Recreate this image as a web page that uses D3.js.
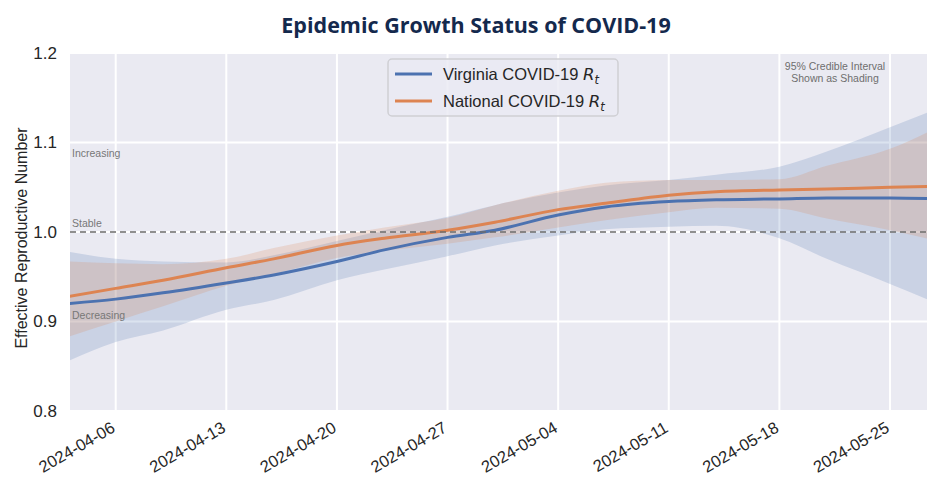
<!DOCTYPE html>
<html>
<head>
<meta charset="utf-8">
<script src="https://cdn.jsdelivr.net/npm/d3@7.9.0/dist/d3.min.js"></script>
<style>
  body { margin: 0; background: #fff; }
  svg { display: block; font-family: "Liberation Sans", Arial, sans-serif; }
</style>
</head>
<body>
<div id="chart"></div>
<script>
// dates
const dates = ['2024-04-03', '2024-04-06', '2024-04-09', '2024-04-13', '2024-04-16', '2024-04-20',
  '2024-04-23', '2024-04-27', '2024-04-30', '2024-05-04', '2024-05-07', '2024-05-11',
  '2024-05-14', '2024-05-18', '2024-05-21', '2024-05-25', '2024-05-28'];

// Virginia Rt and 95% interval
const vaRt    = [0.920, 0.925, 0.932, 0.943, 0.952, 0.967, 0.980, 0.994, 1.002, 1.019, 1.028, 1.034, 1.036, 1.037, 1.038, 1.038, 1.037];
const vaLower = [0.856, 0.877, 0.890, 0.913, 0.924, 0.946, 0.958, 0.973, 0.985, 0.996, 1.003, 1.006, 1.007, 0.993, 0.970, 0.942, 0.920];
const vaUpper = [0.978, 0.970, 0.967, 0.966, 0.974, 0.990, 1.002, 1.017, 1.030, 1.044, 1.052, 1.058, 1.064, 1.073, 1.090, 1.117, 1.138];

// National Rt and 95% interval
const usRt    = [0.928, 0.937, 0.946, 0.960, 0.970, 0.985, 0.993, 1.002, 1.011, 1.025, 1.032, 1.041, 1.045, 1.047, 1.048, 1.050, 1.051];
const usLower = [0.883, 0.900, 0.917, 0.940, 0.953, 0.971, 0.979, 0.987, 0.994, 1.005, 1.013, 1.022, 1.027, 1.026, 1.015, 1.002, 0.990];
const usUpper = [0.967, 0.965, 0.964, 0.970, 0.982, 0.996, 1.005, 1.016, 1.030, 1.046, 1.055, 1.058, 1.058, 1.059, 1.074, 1.093, 1.117];

const tickDates = ['2024-04-06', '2024-04-13', '2024-04-20', '2024-04-27', '2024-05-04', '2024-05-11', '2024-05-18', '2024-05-25'];
const yTicks = [0.8, 0.9, 1.0, 1.1, 1.2];

const seriesNames = ['Virginia COVID-19 ', 'National COVID-19 '];
const colors = ['#4c72b0', '#dd8452'];

const W = 927, H = 477;
const plot = { left: 70, right: 927, top: 53, bottom: 411 };
const parse = d3.timeParse('%Y-%m-%d');

const svg = d3.select('#chart').append('svg')
  .attr('width', W).attr('height', H);

// x scale pinned by the two outer ticks
const x = d3.scaleTime()
  .domain([parse('2024-04-06'), parse('2024-05-25')])
  .range([115.7, 890]);
const y = d3.scaleLinear().domain([0.8, 1.2]).range([plot.bottom, plot.top]);

svg.append('defs').append('clipPath').attr('id', 'clip')
  .append('rect')
  .attr('x', plot.left).attr('y', plot.top)
  .attr('width', plot.right - plot.left).attr('height', plot.bottom - plot.top);

// background
svg.append('rect')
  .attr('x', plot.left).attr('y', plot.top)
  .attr('width', plot.right - plot.left).attr('height', plot.bottom - plot.top)
  .attr('fill', '#eaeaf2');

// gridlines
svg.append('g')
  .selectAll('line')
  .data(tickDates)
  .join('line')
  .attr('x1', d => x(parse(d))).attr('x2', d => x(parse(d)))
  .attr('y1', plot.top).attr('y2', plot.bottom)
  .attr('stroke', '#fff').attr('stroke-width', 2);

svg.append('g')
  .selectAll('line')
  .data(yTicks)
  .join('line')
  .attr('x1', plot.left).attr('x2', plot.right)
  .attr('y1', d => y(d)).attr('y2', d => y(d))
  .attr('stroke', '#fff').attr('stroke-width', 2);

// bands and lines
const rows = dates.map((d, i) => ({
  date: parse(d),
  va: vaRt[i], vaLo: vaLower[i], vaHi: vaUpper[i],
  us: usRt[i], usLo: usLower[i], usHi: usUpper[i]
}));

const g = svg.append('g').attr('clip-path', 'url(#clip)');

const area = (lo, hi) => d3.area()
  .x(d => x(d.date))
  .y0(d => y(d[lo]))
  .y1(d => y(d[hi]))
  .curve(d3.curveMonotoneX);

g.append('path').datum(rows)
  .attr('d', area('vaLo', 'vaHi'))
  .attr('fill', colors[0]).attr('fill-opacity', 0.2);

g.append('path').datum(rows)
  .attr('d', area('usLo', 'usHi'))
  .attr('fill', colors[1]).attr('fill-opacity', 0.2);

// stable reference line
svg.append('line')
  .attr('x1', plot.left).attr('x2', plot.right)
  .attr('y1', y(1)).attr('y2', y(1))
  .attr('stroke', '#6b6b6b').attr('stroke-width', 1.5)
  .attr('stroke-dasharray', '6,4');

const line = key => d3.line()
  .x(d => x(d.date))
  .y(d => y(d[key]))
  .curve(d3.curveMonotoneX);

g.append('path').datum(rows)
  .attr('d', line('va'))
  .attr('fill', 'none').attr('stroke', colors[0]).attr('stroke-width', 3);

g.append('path').datum(rows)
  .attr('d', line('us'))
  .attr('fill', 'none').attr('stroke', colors[1]).attr('stroke-width', 3);

// y axis labels
svg.append('g')
  .attr('transform', `translate(${plot.left},0)`)
  .call(d3.axisLeft(y).tickValues(yTicks).tickFormat(d3.format('.1f')).tickSize(0).tickPadding(13))
  .call(a => a.select('.domain').remove())
  .selectAll('text')
  .attr('font-size', 17).attr('fill', '#262626')
  .attr('font-family', '"Liberation Sans", Arial, sans-serif');

svg.append('text')
  .attr('transform', `translate(27,${(plot.top + plot.bottom) / 2 + 6}) rotate(-90)`)
  .attr('text-anchor', 'middle')
  .attr('font-size', 16).attr('fill', '#262626')
  .text('Effective Reproductive Number');

// x axis labels
svg.append('g')
  .attr('transform', `translate(0,${plot.bottom})`)
  .call(d3.axisBottom(x).tickValues(tickDates.map(parse)).tickFormat(d3.timeFormat('%Y-%m-%d')).tickSize(0).tickPadding(0))
  .call(a => a.select('.domain').remove())
  .selectAll('text')
  .attr('font-size', 16.5).attr('fill', '#262626')
  .attr('font-family', '"Liberation Sans", Arial, sans-serif')
  .attr('text-anchor', 'end')
  .attr('dy', 0)
  .attr('transform', 'translate(0,20) rotate(-30)');

// status labels
const status = [['Increasing', 1.1, 14], ['Stable', 1.0, -5], ['Decreasing', 0.9, -3]];
svg.append('g')
  .selectAll('text')
  .data(status)
  .join('text')
  .attr('x', plot.left + 2)
  .attr('y', d => y(d[1]) + d[2])
  .attr('font-size', 10.5).attr('fill', '#777')
  .text(d => d[0]);

svg.append('text')
  .attr('x', 835).attr('y', 70)
  .attr('text-anchor', 'middle').attr('font-size', 10.5).attr('fill', '#6e6e6e')
  .selectAll('tspan')
  .data(['95% Credible Interval', 'Shown as Shading'])
  .join('tspan')
  .attr('x', 835)
  .attr('dy', (d, i) => i === 0 ? 0 : 12)
  .text(d => d);

// legend
const legend = svg.append('g').attr('transform', 'translate(388,59)');
legend.append('rect')
  .attr('width', 230).attr('height', 57).attr('rx', 4)
  .attr('fill', '#eaeaf2').attr('fill-opacity', 0.8)
  .attr('stroke', '#cfcfd4').attr('stroke-width', 1.5);

const items = legend.selectAll('g')
  .data(seriesNames)
  .join('g')
  .attr('transform', (d, i) => `translate(0,${15 + i * 27})`);

items.append('line')
  .attr('x1', 7).attr('x2', 44)
  .attr('stroke', (d, i) => colors[i]).attr('stroke-width', 3);

const lt = items.append('text')
  .attr('x', 55).attr('y', 6)
  .attr('font-size', 16.5).attr('fill', '#262626');
lt.append('tspan').text(d => d);
lt.append('tspan').attr('font-style', 'italic').attr('font-family', '"DejaVu Sans", sans-serif').text('R');
lt.append('tspan').attr('font-style', 'italic').attr('font-family', '"DejaVu Sans", sans-serif')
  .attr('font-size', 11.5).attr('dy', 4).text('t');

// title
svg.append('text')
  .attr('x', 476).attr('y', 33)
  .attr('text-anchor', 'middle')
  .attr('font-family', '"Open Sans", sans-serif')
  .attr('font-weight', 700).attr('font-size', 21.5)
  .attr('fill', '#14294d')
  .text('Epidemic Growth Status of COVID-19');
</script>
</body>
</html>
